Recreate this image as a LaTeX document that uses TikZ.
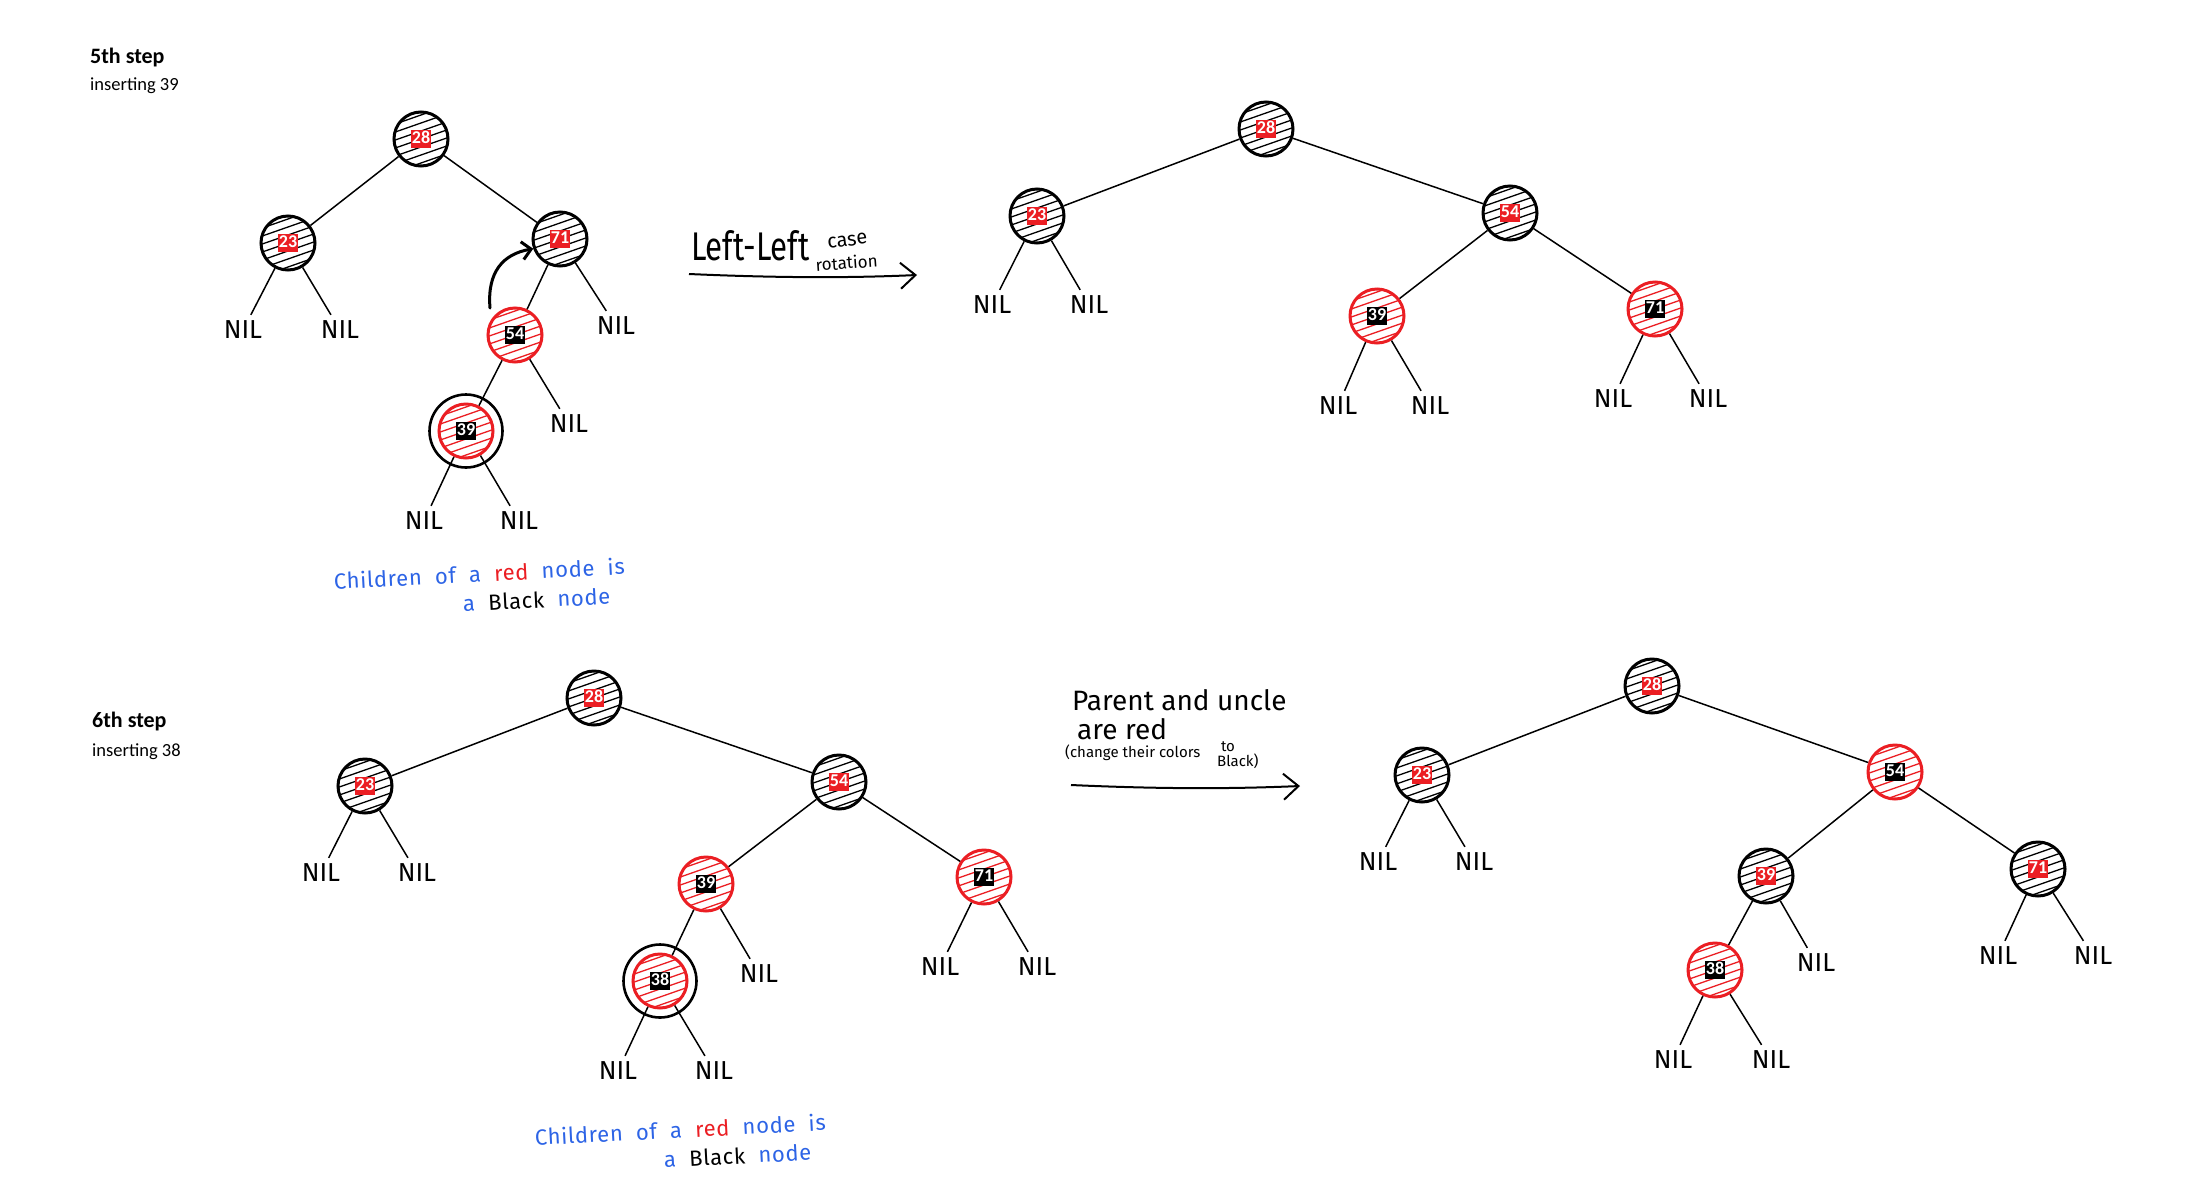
\documentclass[tikz,border=0pt]{standalone}
\usepackage{fontspec}
\setmainfont{Fira Sans}
\newfontfamily\calib{Carlito}
\usetikzlibrary{arrows.meta}

\definecolor{rbred}{RGB}{235,30,35}
\definecolor{inkblue}{RGB}{45,100,230}

% key label: white digits on a small coloured square
\newcommand\keybox[2]{{\setlength{\fboxsep}{1.2pt}\colorbox{#1}{\calib\bfseries\fontsize{18}{18}\selectfont\textcolor{white}{\rule[-3pt]{0pt}{15pt}#2}}}}
% loosely spaced handwriting-like note text
\newcommand\notefont{\fontsize{22}{29}\selectfont\addfontfeatures{LetterSpace=3}\spaceskip=0.6em plus 0.1em}

\tikzset{
  rbbase/.style={circle, minimum size=54pt, inner sep=0pt, line width=3pt},
  hatch/.style={path picture={
      \foreach \k in {-5,...,5}
        \draw[#1, line width=1.3pt]
          ([shift={(-40,\k*8+14)}]path picture bounding box.center) -- ++(80,-28);}},
  blacknode/.style={rbbase, draw=black, hatch=black},
  rednode/.style={rbbase, draw=rbred, hatch=rbred},
  newring/.style={circle, draw=black, line width=2.6pt, minimum size=73pt, inner sep=0pt},
  nil/.style={font=\fontsize{26}{26}\selectfont, inner xsep=2pt, inner ysep=6pt,
              text height=17.9pt, text depth=0pt},
  treeline/.style={line width=1.5pt},
  note/.style={text=inkblue, font=\notefont, inner sep=0pt, align=right, rotate=3},
  hand/.style={inner sep=0pt},
  steptitle/.style={font=\calib\bfseries\fontsize{22}{22}\selectfont, inner sep=0pt, anchor=base west},
  stepsub/.style={font=\calib\fontsize{18.5}{18.5}\selectfont, inner sep=0pt, anchor=base west},
  casearrow/.style={line width=2pt, -{Straight Barb[length=15pt,width=26pt]}},
  rotarrow/.style={line width=3pt, line cap=round, -{Straight Barb[length=9pt,width=18pt]}}
}

\begin{document}
\begin{tikzpicture}[x=1pt, y=-1pt]
\fill[white] (0,0) rectangle (2201,1192);
\useasboundingbox (0,0) rectangle (2201,1192);

% ---------------- 5th step ----------------
\node[steptitle] (s5) at (90,63) {5th step};
\node[stepsub] (s5b) at (90,90) {inserting 39};

% tree before the rotation
\node[blacknode] (A28) at (421,139) {\keybox{rbred}{28}};
\node[blacknode] (A23) at (288,243) {\keybox{rbred}{23}};
\node[blacknode] (A71) at (560,239) {\keybox{rbred}{71}};
\node[rednode]   (A54) at (515,335) {\keybox{black}{54}};
\node[rednode]   (A39) at (466,431) {\keybox{black}{39}};
\node[nil] (An1) at (243,330) {NIL};
\node[nil] (An2) at (340,330) {NIL};
\node[nil] (An3) at (616,326) {NIL};
\node[nil] (An4) at (569,424) {NIL};
\node[nil] (An5) at (424,521) {NIL};
\node[nil] (An6) at (519,521) {NIL};
\draw[treeline] (A28) -- (A23);
\draw[treeline] (A28) -- (A71);
\draw[treeline] (A71) -- (A54);
\draw[treeline] (A71) -- (An3);
\draw[treeline] (A23) -- (An1);
\draw[treeline] (A23) -- (An2);
\draw[treeline] (A54) -- (A39);
\draw[treeline] (A54) -- (An4);
\draw[treeline] (A39) -- (An5);
\draw[treeline] (A39) -- (An6);
\node[newring] (A39ring) at (A39) {};
\coordinate (rotS) at (490,308);
\draw[rotarrow] (rotS) .. controls (487,272) and (503,254) .. (A71.200);

\node[note] (noteA) at (480,588)
  {Children of a \textcolor{rbred}{red} node is\\
   a \textcolor{black}{Black} node\hspace*{16pt}};

% rotation arrow
\node[hand, anchor=base west, font=\fontsize{40}{40}\selectfont] (ll) at (691,260) {\scalebox{0.78}[1]{Left-Left}};
\node[hand, anchor=base, rotate=7, font=\fontsize{20}{20}\selectfont] (llcase) at (848,246) {case};
\node[hand, anchor=base, rotate=4, font=\fontsize{17}{17}\selectfont] (llrot) at (847,269) {rotation};
\coordinate (arr1s) at (689,274);
\coordinate (arr1e) at (917,275);
\draw[casearrow] (arr1s) .. controls (780,278) and (850,278) .. (arr1e);

% tree after the rotation
\node[blacknode] (B28) at (1266,129) {\keybox{rbred}{28}};
\node[blacknode] (B23) at (1037,216) {\keybox{rbred}{23}};
\node[blacknode] (B54) at (1510,213) {\keybox{rbred}{54}};
\node[rednode]   (B39) at (1377,316) {\keybox{black}{39}};
\node[rednode]   (B71) at (1655,309) {\keybox{black}{71}};
\node[nil] (Bn1) at (992,305) {NIL};
\node[nil] (Bn2) at (1089,305) {NIL};
\node[nil] (Bn3) at (1338,406) {NIL};
\node[nil] (Bn4) at (1430,406) {NIL};
\node[nil] (Bn5) at (1613,399) {NIL};
\node[nil] (Bn6) at (1708,399) {NIL};
\draw[treeline] (B28) -- (B23);
\draw[treeline] (B28) -- (B54);
\draw[treeline] (B23) -- (Bn1);
\draw[treeline] (B23) -- (Bn2);
\draw[treeline] (B54) -- (B39);
\draw[treeline] (B54) -- (B71);
\draw[treeline] (B39) -- (Bn3);
\draw[treeline] (B39) -- (Bn4);
\draw[treeline] (B71) -- (Bn5);
\draw[treeline] (B71) -- (Bn6);

% ---------------- 6th step ----------------
\node[steptitle] (s6) at (92,727) {6th step};
\node[stepsub] (s6b) at (92,756) {inserting 38};

% tree before recolouring
\node[blacknode] (C28) at (594,698) {\keybox{rbred}{28}};
\node[blacknode] (C23) at (365,786) {\keybox{rbred}{23}};
\node[blacknode] (C54) at (839,782) {\keybox{rbred}{54}};
\node[rednode]   (C39) at (706,884) {\keybox{black}{39}};
\node[rednode]   (C71) at (984,877) {\keybox{black}{71}};
\node[rednode]   (C38) at (660,981) {\keybox{black}{38}};
\node[nil] (Cn1) at (321,873) {NIL};
\node[nil] (Cn2) at (417,873) {NIL};
\node[nil] (Cn3) at (759,974) {NIL};
\node[nil] (Cn4) at (940,967) {NIL};
\node[nil] (Cn5) at (1037,967) {NIL};
\node[nil] (Cn6) at (618,1071) {NIL};
\node[nil] (Cn7) at (714,1071) {NIL};
\draw[treeline] (C28) -- (C23);
\draw[treeline] (C28) -- (C54);
\draw[treeline] (C23) -- (Cn1);
\draw[treeline] (C23) -- (Cn2);
\draw[treeline] (C54) -- (C39);
\draw[treeline] (C54) -- (C71);
\draw[treeline] (C39) -- (C38);
\draw[treeline] (C39) -- (Cn3);
\draw[treeline] (C71) -- (Cn4);
\draw[treeline] (C71) -- (Cn5);
\draw[treeline] (C38) -- (Cn6);
\draw[treeline] (C38) -- (Cn7);
\node[newring] (C38ring) at (C38) {};

\node[note] (noteC) at (681,1144)
  {Children of a \textcolor{rbred}{red} node is\\
   a \textcolor{black}{Black} node\hspace*{16pt}};

% recolouring arrow
\node[hand, anchor=base west, font=\fontsize{28}{28}\selectfont] (pu1) at (1072,710) {Parent and uncle};
\node[hand, anchor=base west, font=\fontsize{28}{28}\selectfont] (pu2) at (1077,739) {are red};
\node[hand, anchor=base west, font=\fontsize{15}{15}\selectfont] (pu3) at (1065,757) {(change their colors};
\node[hand, anchor=base, font=\fontsize{15}{15}\selectfont] (pu4) at (1228,751) {to};
\node[hand, anchor=base west, font=\fontsize{15}{15}\selectfont] (pu5) at (1217,766) {Black)};
\coordinate (arr2s) at (1071,785);
\coordinate (arr2e) at (1300,786);
\draw[casearrow] (arr2s) .. controls (1160,789) and (1230,789) .. (arr2e);

% tree after recolouring
\node[blacknode] (D28) at (1652,686) {\keybox{rbred}{28}};
\node[blacknode] (D23) at (1422,775) {\keybox{rbred}{23}};
\node[rednode]   (D54) at (1895,772) {\keybox{black}{54}};
\node[blacknode] (D39) at (1766,876) {\keybox{rbred}{39}};
\node[blacknode] (D71) at (2038,869) {\keybox{rbred}{71}};
\node[rednode]   (D38) at (1715,970) {\keybox{black}{38}};
\node[nil] (Dn1) at (1378,862) {NIL};
\node[nil] (Dn2) at (1474,862) {NIL};
\node[nil] (Dn3) at (1816,963) {NIL};
\node[nil] (Dn4) at (1998,956) {NIL};
\node[nil] (Dn5) at (2093,956) {NIL};
\node[nil] (Dn6) at (1673,1060) {NIL};
\node[nil] (Dn7) at (1771,1060) {NIL};
\draw[treeline] (D28) -- (D23);
\draw[treeline] (D28) -- (D54);
\draw[treeline] (D23) -- (Dn1);
\draw[treeline] (D23) -- (Dn2);
\draw[treeline] (D54) -- (D39);
\draw[treeline] (D54) -- (D71);
\draw[treeline] (D39) -- (D38);
\draw[treeline] (D39) -- (Dn3);
\draw[treeline] (D71) -- (Dn4);
\draw[treeline] (D71) -- (Dn5);
\draw[treeline] (D38) -- (Dn6);
\draw[treeline] (D38) -- (Dn7);
\end{tikzpicture}
\end{document}
